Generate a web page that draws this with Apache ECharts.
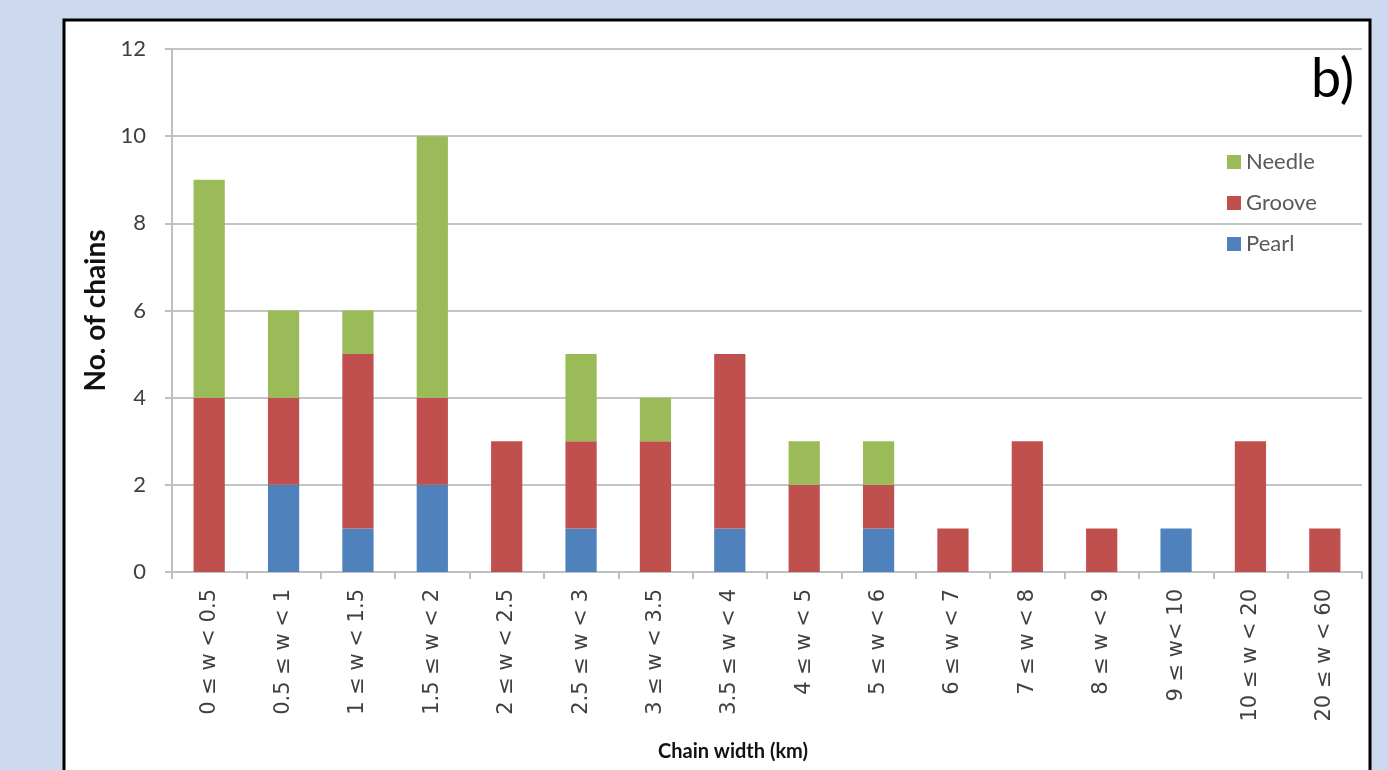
<!DOCTYPE html>
<html><head><meta charset="utf-8">
<script src="https://cdn.jsdelivr.net/npm/echarts@6/dist/echarts.min.js"></script>
<style>html,body{margin:0;padding:0;background:#cdd9ee}#c{width:1388px;height:770px}</style>
</head><body><div id="c"></div>
<script>
const categories = ['0 ≤ w < 0.5','0.5 ≤ w < 1','1 ≤ w < 1.5','1.5 ≤ w < 2','2 ≤ w < 2.5','2.5 ≤ w < 3','3 ≤ w < 3.5','3.5 ≤ w < 4','4 ≤ w < 5','5 ≤ w < 6','6 ≤ w < 7','7 ≤ w < 8','8 ≤ w < 9','9 ≤ w< 10','10 ≤ w < 20','20 ≤ w < 60'];
const pearl  = [0,2,1,2,0,1,0,1,0,1,0,0,0,1,0,0];
const groove = [4,2,4,2,3,2,3,4,2,1,1,3,1,0,3,1];
const needle = [5,2,1,6,0,2,1,0,1,1,0,0,0,0,0,0];
const yTicks = [0,2,4,6,8,10,12];

const FONT = 'Lato';
const chart = echarts.init(document.getElementById('c'));
chart.setOption({
  backgroundColor: '#cdd9ee',
  animation: false,
  textStyle: {fontFamily: FONT},
  graphic: [
    {type:'rect', z:-10, shape:{x:64,y:20,width:1306,height:800}, style:{fill:'#fff', stroke:'#000', lineWidth:3}},
    {type:'text', x:1311, y:53, style:{text:'b)', font:'54px '+FONT, fill:'#000'}},
    {type:'text', x:733, y:752, style:{text:'Chain width (km)', font:'bold 20px '+FONT, fill:'#111', align:'center', verticalAlign:'middle'}}
  ],
  legend: {
    orient:'vertical', left:1222, top:146,
    data:['Needle','Groove','Pearl'],
    itemWidth:14, itemHeight:14, itemGap:19,
    icon:'rect',
    textStyle:{fontSize:22, color:'#595959', fontFamily:FONT}
  },
  grid: {left:172, right:26, top:49, bottom:198, containLabel:false},
  xAxis: {
    type:'category', data:categories,
    axisLine:{lineStyle:{color:'#bfbfbf', width:2}},
    axisTick:{show:true, length:7, lineStyle:{color:'#bfbfbf', width:2}, alignWithLabel:false},
    axisLabel:{rotate:90, margin:17, fontSize:21, color:'#404040', fontFamily:'DejaVu Sans', interval:0}
  },
  yAxis: {
    type:'value', min:0, max:12, interval:2,
    name:'No. of chains', nameLocation:'middle', nameGap:62,
    nameTextStyle:{fontSize:28, fontWeight:'bold', color:'#111', fontFamily:FONT},
    axisLine:{show:true, lineStyle:{color:'#bfbfbf', width:2}},
    axisTick:{show:true, length:7, lineStyle:{color:'#bfbfbf', width:2}},
    splitLine:{lineStyle:{color:'#c4c4c4', width:2}},
    axisLabel:{margin:26, fontSize:22, color:'#404040', fontFamily:FONT,
      formatter: v => yTicks.includes(v) ? String(v) : ''}
  },
  series: [
    {name:'Pearl', type:'bar', stack:'s', data:pearl, itemStyle:{color:'#4f81bd'}, barCategoryGap:'58%'},
    {name:'Groove', type:'bar', stack:'s', data:groove, itemStyle:{color:'#c0504d'}},
    {name:'Needle', type:'bar', stack:'s', data:needle, itemStyle:{color:'#9bbb59'}}
  ]
});
</script></body></html>
